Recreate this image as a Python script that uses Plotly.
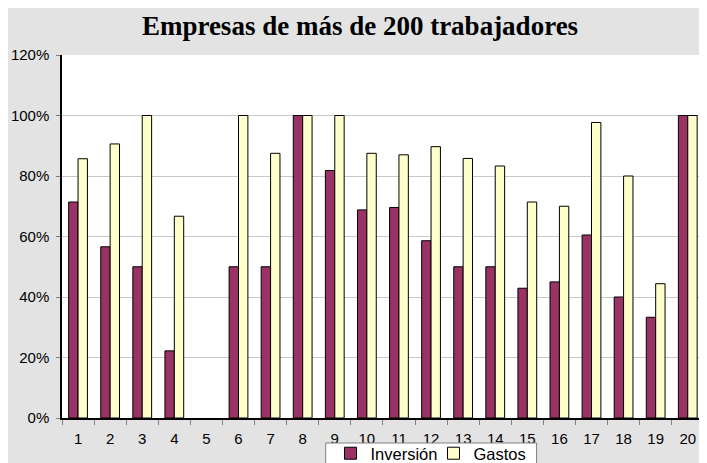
import plotly.graph_objects as go

categorias = list(range(1, 21))
inversion = [0.714, 0.566, 0.50, 0.222, 0.0, 0.50, 0.50, 1.00, 0.818, 0.688,
             0.696, 0.586, 0.50, 0.50, 0.429, 0.45, 0.605, 0.40, 0.333, 1.00]
gastos = [0.857, 0.906, 1.00, 0.667, 0.0, 1.00, 0.875, 1.00, 1.00, 0.875,
          0.87, 0.897, 0.858, 0.833, 0.714, 0.70, 0.977, 0.80, 0.444, 1.00]

# la página se dibuja con 8 px de margen del body y pierde ~8 px a la derecha
OFF = 8
W, H = 707 - 2 * OFF, 463 - OFF


def borde(vals):
    return [1 if v > 0 else 0 for v in vals]


fig = go.Figure()
fig.add_trace(go.Bar(
    x=categorias, y=inversion, name="Inversión",
    marker=dict(color="#993366", line=dict(color="black", width=borde(inversion))),
))
fig.add_trace(go.Bar(
    x=categorias, y=gastos, name="Gastos",
    marker=dict(color="#FFFFCC", line=dict(color="black", width=borde(gastos))),
))

# recuadro de la leyenda (cortado abajo, como en el original)
fig.add_shape(
    type="rect", xref="paper", yref="paper",
    x0=0.414, x1=0.745, y0=-0.0689, y1=-0.2,
    fillcolor="white", line=dict(color="#808080", width=1),
)

fig.update_layout(
    width=W, height=H,
    margin=dict(l=62 - OFF, r=0, t=55 - OFF, b=H - (418 - OFF), autoexpand=False),
    paper_bgcolor="#e3e3e3",
    plot_bgcolor="white",
    barmode="group",
    bargap=0.415,
    bargroupgap=0,
    font=dict(family="Arial, Liberation Sans", size=15, color="black"),
    title=dict(
        text="<b>Empresas de más de 200 trabajadores</b>",
        font=dict(family="Times New Roman, Liberation Serif", size=27, color="black"),
        x=(360 - OFF) / W, xref="container", xanchor="center",
        y=1 - 18 / H, yref="container", yanchor="middle",
    ),
    showlegend=True,
    legend=dict(
        orientation="h",
        x=0.4215, y=-0.0496, xanchor="left", yanchor="top",
        bgcolor="rgba(0,0,0,0)", borderwidth=0,
        font=dict(size=16.5),
        itemwidth=30,
        entrywidth=58,
        traceorder="normal",
    ),
)

fig.update_xaxes(
    range=[0.5, 20.35],
    tickvals=categorias,
    ticks="",
    ticklabelstandoff=6,
    ticklabeloverflow="allow",
    showline=True, linecolor="black", linewidth=1.5,
    showgrid=False, zeroline=False,
    layer="above traces",
    automargin=False,
    minor=dict(ticks="outside", tick0=0.5, dtick=1, ticklen=5,
               tickcolor="#808080", showgrid=False),
)
fig.update_yaxes(
    range=[0, 1.2],
    dtick=0.2,
    tickformat=".0%",
    ticks="outside", ticklen=4, tickcolor="#808080",
    ticklabelstandoff=4,
    showline=True, linecolor="black", linewidth=1.5,
    showgrid=True, gridcolor="#c8c8c8", gridwidth=1,
    zeroline=False,
    automargin=False,
)

fig.write_html("out.html")
